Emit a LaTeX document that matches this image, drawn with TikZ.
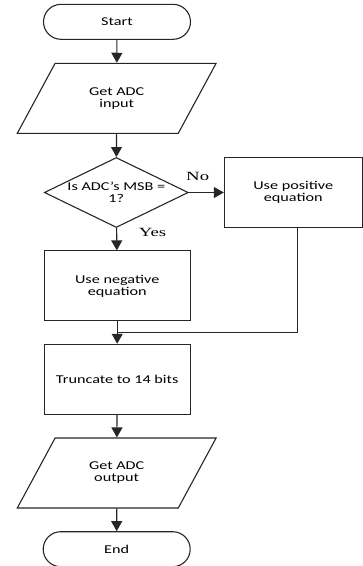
\documentclass[tikz,border=0pt]{standalone}
\usepackage{fontspec}
\newfontfamily\flowfont{Carlito}[FakeStretch=1.35]
\newfontfamily\tagfont{Liberation Serif}[FakeStretch=1.5]
\usetikzlibrary{arrows.meta}
\usetikzlibrary{shapes.geometric}
\usetikzlibrary{shapes.misc}

\begin{document}
\begin{tikzpicture}[x = 1pt, y = -1pt,
    every node/.style = {font=\flowfont\fontsize{12}{12}\selectfont, align=center},
    line/.style = {draw=black!85, line width=1.1pt},
    terminal/.style = {line, rounded rectangle, minimum width=147pt, minimum height=35pt, inner sep=0pt},
    io/.style = {line, trapezium, trapezium left angle=52, trapezium right angle=128, trapezium stretches=true, minimum width=199pt, minimum height=70pt, inner sep=0pt},
    process/.style = {line, rectangle, minimum width=146pt, minimum height=70pt, inner sep=0pt},
    decision/.style = {line, diamond, aspect=2, minimum width=144pt, minimum height=70pt, inner sep=0pt},
    tag/.style = {font=\tagfont\fontsize{12.5}{12.5}\selectfont},
    flow/.style = {line, -{Triangle[length=10pt, width=11pt]}}]
          \useasboundingbox (0,0) rectangle (363,566);
          \node[terminal] (start) at (117,21.8) {Start};
          \node[io] (input) at (116.7,98.3) {Get ADC\\input};
          \node[decision] (msb) at (116.3,192.5) {Is ADC’s MSB =\\1?};
          \node[process, minimum width=137.7pt] (pos) at (293.2,192.3) {Use positive\\equation};
          \node[process] (neg) at (117.2,285.9) {Use negative\\equation};
          \node[process] (trunc) at (117.2,379.3) {Truncate to 14 bits};
          \node[io] (output) at (116.7,473) {Get ADC\\output};
          \node[terminal] (end) at (116.7,549.2) {End};
          \node[tag] (no) at (197.7,176) {No};
          \node[tag] (yes) at (152.5,232.7) {Yes};
          \coordinate (turn) at (297.3,332.7);
          \coordinate (merge) at (117,332.7);
          \draw[flow] (start) -- (input);
          \draw[flow] (input) -- (msb);
          \draw[flow] (msb.east) -- (msb.east -| pos.west);
          \draw[flow] (msb) -- (neg);
          \draw[flow] (neg) -- (trunc);
          \draw[line] (pos.south -| turn) -- (turn) -- (merge);
          \draw[flow] (trunc) -- (output);
          \draw[flow] (output) -- (end);
        \end{tikzpicture}
\end{document}
